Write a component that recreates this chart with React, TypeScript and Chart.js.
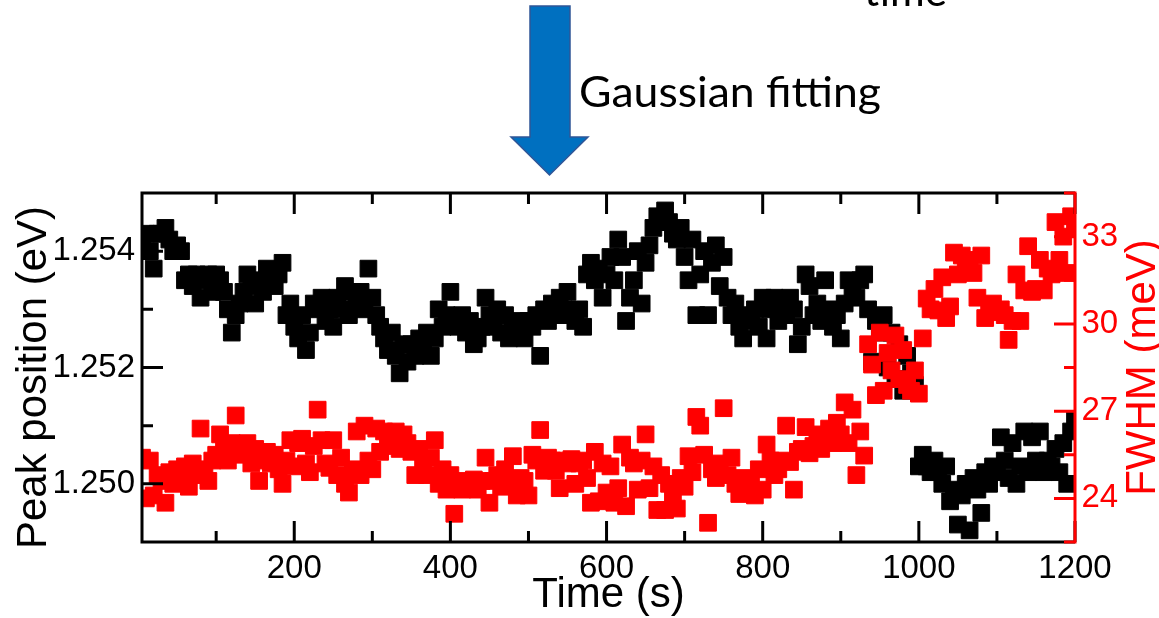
import React, { useEffect, useRef } from 'react';
import { Chart, registerables } from 'chart.js';

Chart.register(...registerables);

const FONT = "'Liberation Sans', Arial, sans-serif";

const TIME_S = [
  5, 10, 15, 20, 25, 30, 35, 40, 45, 50, 55, 60, 65, 70, 75, 80, 85, 90, 95, 100,
  105, 110, 115, 120, 125, 130, 135, 140, 145, 150, 155, 160, 165, 170, 175, 180, 185, 190, 195, 200,
  205, 210, 215, 220, 225, 230, 235, 240, 245, 250, 255, 260, 265, 270, 275, 280, 285, 290, 295, 300,
  305, 310, 315, 320, 325, 330, 335, 340, 345, 350, 355, 360, 365, 370, 375, 380, 385, 390, 395, 400,
  405, 410, 415, 420, 425, 430, 435, 440, 445, 450, 455, 460, 465, 470, 475, 480, 485, 490, 495, 500,
  505, 510, 515, 520, 525, 530, 535, 540, 545, 550, 555, 560, 565, 570, 575, 580, 585, 590, 595, 600,
  605, 610, 615, 620, 625, 630, 635, 640, 645, 650, 655, 660, 665, 670, 675, 680, 685, 690, 695, 700,
  705, 710, 715, 720, 725, 730, 735, 740, 745, 750, 755, 760, 765, 770, 775, 780, 785, 790, 795, 800,
  805, 810, 815, 820, 825, 830, 835, 840, 845, 850, 855, 860, 865, 870, 875, 880, 885, 890, 895, 900,
  905, 910, 915, 920, 925, 930, 935, 940, 945, 950, 955, 960, 965, 970, 975, 980, 985, 990, 995, 1000,
  1005, 1010, 1015, 1020, 1025, 1030, 1035, 1040, 1045, 1050, 1055, 1060, 1065, 1070, 1075, 1080, 1085, 1090, 1095, 1100,
  1105, 1110, 1115, 1120, 1125, 1130, 1135, 1140, 1145, 1150, 1155, 1160, 1165, 1170, 1175, 1180, 1185, 1190, 1195, 1200,
];

const PEAK_EV = [
  1.2541, 1.2543, 1.2540, 1.2537, 1.2543,
  1.2543, 1.2544, 1.2542, 1.2540, 1.2541,
  1.2540, 1.2535, 1.2536, 1.2534, 1.2536,
  1.2532, 1.2535, 1.2536, 1.2533, 1.2536,
  1.2535, 1.2533, 1.2530, 1.2526, 1.2529,
  1.2531, 1.2533, 1.2536, 1.2534, 1.2531,
  1.2535, 1.2533, 1.2537, 1.2535, 1.2534,
  1.2536, 1.2538, 1.2529, 1.2531, 1.2527,
  1.2525, 1.2529, 1.2523, 1.2526, 1.2531,
  1.2530, 1.2532, 1.2528, 1.2530, 1.2527,
  1.2532, 1.2530, 1.2534, 1.2529, 1.2533,
  1.2531, 1.2533, 1.2530, 1.2537, 1.2532,
  1.2529, 1.2527, 1.2525, 1.2523, 1.2526,
  1.2522, 1.2519, 1.2524, 1.2521, 1.2524,
  1.2522, 1.2525, 1.2523, 1.2526, 1.2522,
  1.2525, 1.2530, 1.2527, 1.2529, 1.2533,
  1.2528, 1.2527, 1.2529, 1.2526, 1.2528,
  1.2524, 1.2525, 1.2527, 1.2532, 1.2529,
  1.2527, 1.2530, 1.2526, 1.2529, 1.2525,
  1.2527, 1.2526, 1.2528, 1.2525, 1.2528,
  1.2527, 1.2529, 1.2522, 1.2530, 1.2528,
  1.2531, 1.2529, 1.2532, 1.2530, 1.2533,
  1.2529, 1.2528, 1.2530, 1.2527, 1.2536,
  1.2538, 1.2535, 1.2537, 1.2532, 1.2536,
  1.2539, 1.2535, 1.2542, 1.2539, 1.2528,
  1.2532, 1.2535, 1.2540, 1.2531, 1.2538,
  1.2541, 1.2544, 1.2546, 1.2545, 1.2547,
  1.2545, 1.2543, 1.2542, 1.2544, 1.2539,
  1.2535, 1.2542, 1.2529, 1.2536, 1.2540,
  1.2529, 1.2538, 1.2541, 1.2534, 1.2539,
  1.2532, 1.2529, 1.2531, 1.2527, 1.2525,
  1.2529, 1.2528, 1.2530, 1.2527, 1.2532,
  1.2525, 1.2530, 1.2532, 1.2528, 1.2531,
  1.2529, 1.2532, 1.2530, 1.2524, 1.2527,
  1.2536, 1.2534, 1.2529, 1.2531, 1.2528,
  1.2535, 1.2530, 1.2527, 1.2529, 1.2525,
  1.2531, 1.2535, 1.2533, 1.2532, 1.2535,
  1.2536, 1.2530, 1.2521, 1.2528, 1.2526,
  1.2529, 1.2520, 1.2526, 1.2518, 1.2524,
  1.2516, 1.2522, 1.2519, 1.2517, 1.2503,
  1.2505, 1.2503, 1.2502, 1.2504, 1.2502,
  1.2500, 1.2503, 1.2497, 1.2499, 1.2493,
  1.2498, 1.2500, 1.2492, 1.2501, 1.2499,
  1.2495, 1.2502, 1.2500, 1.2503, 1.2502,
  1.2508, 1.2504, 1.2501, 1.2507, 1.2500,
  1.2503, 1.2509, 1.2502, 1.2508, 1.2504,
  1.2509, 1.2502, 1.2504, 1.2503, 1.2506,
  1.2502, 1.2507, 1.2500, 1.2509, 1.2511,
];

const FWHM_MEV = [
  25.4, 24.0, 25.3, 24.1, 24.8,
  24.6, 23.85, 24.9, 24.5, 25.0,
  24.7, 25.1, 24.4, 25.2, 24.8,
  26.4, 25.0, 24.6, 25.3, 25.5,
  26.2, 25.7, 25.3, 25.9, 26.85,
  25.8, 25.5, 25.9, 25.2, 25.7,
  24.6, 25.3, 25.6, 25.2, 25.5,
  25.0, 24.5, 25.3, 26.0, 25.1,
  25.9, 26.05, 25.2, 24.9, 25.8,
  27.05, 26.0, 25.2, 25.05, 26.0,
  24.8, 25.4, 24.5, 24.2, 25.0,
  26.3, 24.8, 26.5, 25.3, 25.0,
  26.4, 25.6, 26.3, 26.1, 25.8,
  26.3, 25.7, 26.2, 25.9, 25.6,
  24.8, 25.7, 25.2, 24.8, 25.4,
  26.0, 24.5, 25.0, 24.3, 24.8,
  23.47, 24.6, 24.3, 24.5, 24.4,
  24.65, 24.3, 24.6, 25.4, 23.85,
  24.6, 24.8, 24.4, 25.0, 24.5,
  25.45, 24.1, 24.7, 24.6, 24.1,
  25.5, 25.3, 26.35, 24.95, 25.4,
  25.3, 24.95, 24.35, 25.3, 25.2,
  25.35, 24.5, 25.2, 25.3, 24.7,
  23.85, 25.6, 23.9, 25.2, 24.2,
  25.1, 23.85, 24.35, 25.85, 23.73,
  25.4, 25.2, 24.3, 25.3, 26.2,
  24.35, 25.1, 23.6, 24.8, 23.6,
  24.5, 24.0, 23.65, 24.7, 24.4,
  25.45, 24.9, 26.8, 26.5, 25.5,
  23.16, 25.0, 24.7, 25.2, 27.1,
  24.8, 25.4, 24.5, 24.15, 24.7,
  24.4, 24.6, 24.1, 25.0, 24.3,
  25.85, 25.3, 24.8, 25.0, 25.3,
  26.5, 25.25, 24.3, 25.6, 25.7,
  26.45, 25.55, 25.8, 26.2, 25.7,
  26.0, 26.4, 25.9, 26.6, 26.2,
  27.3, 25.9, 27.05, 24.8, 26.3,
  25.47, 29.3, 28.6, 27.55, 29.7,
  27.7, 29.0, 28.4, 29.6, 28.1,
  29.1, 27.9, 27.7, 28.4, 27.6,
  29.5, 30.87, 30.5, 31.2, 30.46,
  31.6, 30.2, 30.6, 32.45, 31.7,
  32.35, 31.9, 32.2, 31.75, 30.9,
  32.35, 30.2, 30.6, 30.7, 30.4,
  30.5, 30.3, 29.45, 30.1, 31.7,
  30.1, 31.15, 32.67, 31.1, 31.2,
  32.2, 31.15, 31.9, 31.7, 33.5,
  32.2, 33.0, 31.75, 33.7, 33.3,
];

const X_TICKS = [200, 400, 600, 800, 1000, 1200];
const X_MINOR = [100, 300, 500, 700, 900, 1100];
const Y_TICKS = [1.25, 1.252, 1.254];
const Y_MINOR = [1.249, 1.251, 1.253, 1.255];
const Y1_TICKS = [24, 27, 30, 33];
const Y1_MINOR = [22.5, 25.5, 28.5, 31.5, 34.5];

const X_TITLE = 'Time (s)';
const Y_TITLE = 'Peak position (eV)';
const Y1_TITLE = 'FWHM (meV)';
const ANNOTATION = 'Gaussian fitting';
const TOP_WORD = 'time';

const MAJOR = 21;
const MINOR = 11;

function stretchText(ctx: CanvasRenderingContext2D, text: string, x: number, y: number, width: number) {
  const w = ctx.measureText(text).width;
  ctx.save();
  ctx.translate(x, y);
  ctx.scale(width / w, 1);
  ctx.fillText(text, 0, 0);
  ctx.restore();
}

const framePlugin = {
  id: 'frame',
  afterDatasetsDraw(chart: any) {
    const { ctx, chartArea: a, scales } = chart;
    const xs = scales.x;
    const ys = scales.y;
    const y1 = scales.y1;
    ctx.save();
    ctx.lineWidth = 3;
    ctx.lineCap = 'butt';
    ctx.strokeStyle = '#000000';
    ctx.beginPath();
    ctx.moveTo(a.left - 1.5, a.top);
    ctx.lineTo(a.right, a.top);
    ctx.moveTo(a.left - 1.5, a.bottom);
    ctx.lineTo(a.right, a.bottom);
    ctx.moveTo(a.left, a.top);
    ctx.lineTo(a.left, a.bottom);
    X_TICKS.forEach((v) => {
      const p = xs.getPixelForValue(v);
      ctx.moveTo(p, a.bottom);
      ctx.lineTo(p, a.bottom - MAJOR);
      ctx.moveTo(p, a.top);
      ctx.lineTo(p, a.top + MAJOR);
    });
    X_MINOR.forEach((v) => {
      const p = xs.getPixelForValue(v);
      ctx.moveTo(p, a.bottom);
      ctx.lineTo(p, a.bottom - MINOR);
      ctx.moveTo(p, a.top);
      ctx.lineTo(p, a.top + MINOR);
    });
    Y_TICKS.forEach((v) => {
      const p = ys.getPixelForValue(v);
      ctx.moveTo(a.left, p);
      ctx.lineTo(a.left + MAJOR, p);
    });
    Y_MINOR.forEach((v) => {
      const p = ys.getPixelForValue(v);
      ctx.moveTo(a.left, p);
      ctx.lineTo(a.left + MINOR, p);
    });
    ctx.stroke();

    ctx.strokeStyle = '#ff0000';
    ctx.beginPath();
    ctx.moveTo(a.right, a.top - 1.5);
    ctx.lineTo(a.right, a.bottom + 1.5);
    Y1_TICKS.forEach((v) => {
      const p = y1.getPixelForValue(v);
      ctx.moveTo(a.right, p);
      ctx.lineTo(a.right - MAJOR, p);
    });
    Y1_MINOR.forEach((v) => {
      const p = y1.getPixelForValue(v);
      ctx.moveTo(a.right, p);
      ctx.lineTo(a.right - MINOR, p);
    });
    ctx.stroke();
    ctx.restore();
  },
  afterDraw(chart: any) {
    const { ctx, chartArea: a } = chart;

    // left axis title (reading bottom-to-top)
    ctx.save();
    ctx.fillStyle = '#000000';
    ctx.font = `42px ${FONT}`;
    ctx.textAlign = 'center';
    ctx.textBaseline = 'alphabetic';
    ctx.translate(46, (a.top + a.bottom) / 2 + 10);
    ctx.rotate(-Math.PI / 2);
    ctx.fillText(Y_TITLE, 0, 0);
    ctx.restore();

    // right axis title, reading bottom-to-top
    ctx.save();
    ctx.fillStyle = '#ff0000';
    ctx.font = `42px ${FONT}`;
    ctx.textAlign = 'center';
    ctx.textBaseline = 'alphabetic';
    ctx.translate(1155, (a.top + a.bottom) / 2);
    ctx.rotate(-Math.PI / 2);
    ctx.fillText(Y1_TITLE, 0, 0);
    ctx.restore();

    // blue arrow
    ctx.save();
    ctx.beginPath();
    ctx.moveTo(530, 6);
    ctx.lineTo(570, 6);
    ctx.lineTo(570, 137);
    ctx.lineTo(588, 137);
    ctx.lineTo(549.5, 175);
    ctx.lineTo(511, 137);
    ctx.lineTo(530, 137);
    ctx.closePath();
    ctx.fillStyle = '#0070C0';
    ctx.fill();
    ctx.lineWidth = 1.5;
    ctx.strokeStyle = '#2F5597';
    ctx.stroke();

    ctx.fillStyle = '#000000';
    ctx.font = `42px Lato, 'Open Sans', sans-serif`;
    ctx.textAlign = 'left';
    ctx.textBaseline = 'alphabetic';
    stretchText(ctx, ANNOTATION, 579, 107, 302);
    stretchText(ctx, TOP_WORD, 864, 6, 83);
    ctx.restore();
  },
};

export default function App() {
  const ref = useRef<HTMLCanvasElement>(null);

  useEffect(() => {
    if (!ref.current) return;
    const chart = new Chart(ref.current, {
      type: 'scatter',
      data: {
        datasets: [
          {
            label: 'FWHM',
            data: FWHM_MEV.map((v, i) => ({ x: TIME_S[i], y: v })),
            yAxisID: 'y1',
            pointStyle: 'rect',
            pointRadius: 11.8,
            pointBorderWidth: 1,
            backgroundColor: '#ff0000',
            borderColor: '#ff0000',
            order: 0,
            clip: 0,
          },
          {
            label: 'Peak position',
            data: PEAK_EV.map((v, i) => ({ x: TIME_S[i], y: v })),
            yAxisID: 'y',
            pointStyle: 'rect',
            pointRadius: 11.8,
            pointBorderWidth: 1,
            backgroundColor: '#000000',
            borderColor: '#000000',
            order: 1,
            clip: 0,
          },
        ],
      },
      options: {
        animation: false,
        responsive: false,
        devicePixelRatio: 1,
        events: [],
        layout: { padding: { top: 193, left: 0, right: 0, bottom: 0 } },
        plugins: { legend: { display: false }, tooltip: { enabled: false } },
        scales: {
          x: {
            type: 'linear',
            position: 'bottom',
            min: 5,
            max: 1200,
            afterBuildTicks: (s: any) => {
              s.ticks = X_TICKS.map((v) => ({ value: v }));
            },
            afterFit: (s: any) => {
              s.height = 76;
            },
            grid: { display: false, drawTicks: false },
            border: { display: false },
            ticks: {
              autoSkip: false,
              maxRotation: 0,
              padding: 10,
              color: '#000000',
              font: { family: FONT, size: 33, lineHeight: 1 },
              callback: (v: any) => String(v),
            },
            title: {
              display: true,
              text: X_TITLE,
              color: '#000000',
              font: { family: FONT, size: 42, lineHeight: 1 },
              padding: { top: 0, bottom: 1.5 },
            },
          },
          y: {
            type: 'linear',
            position: 'left',
            min: 1.249,
            max: 1.255,
            afterBuildTicks: (s: any) => {
              s.ticks = Y_TICKS.map((v) => ({ value: v }));
            },
            afterFit: (s: any) => {
              s.width = 142;
            },
            grid: { display: false, drawTicks: false },
            border: { display: false },
            ticks: {
              autoSkip: false,
              padding: 7,
              color: '#000000',
              font: { family: FONT, size: 33, lineHeight: 1 },
              callback: (v: any) => Number(v).toFixed(3),
            },
            title: { display: false },
          },
          y1: {
            type: 'linear',
            position: 'right',
            min: 22.5,
            max: 34.5,
            afterBuildTicks: (s: any) => {
              s.ticks = Y1_TICKS.map((v) => ({ value: v }));
            },
            afterFit: (s: any) => {
              s.width = 84;
            },
            grid: { display: false, drawTicks: false },
            border: { display: false },
            ticks: {
              autoSkip: false,
              padding: 6.5,
              color: '#ff0000',
              font: { family: FONT, size: 33, lineHeight: 1 },
              callback: (v: any) => String(v),
            },
          },
        },
      },
      plugins: [framePlugin],
    });
    return () => chart.destroy();
  }, []);

  return (
    <div style={{ position: 'absolute', left: 0, top: 0, width: 1159, height: 618, background: '#ffffff' }}>
      <canvas ref={ref} width={1159} height={618} style={{ display: 'block', width: 1159, height: 618 }} />
    </div>
  );
}
